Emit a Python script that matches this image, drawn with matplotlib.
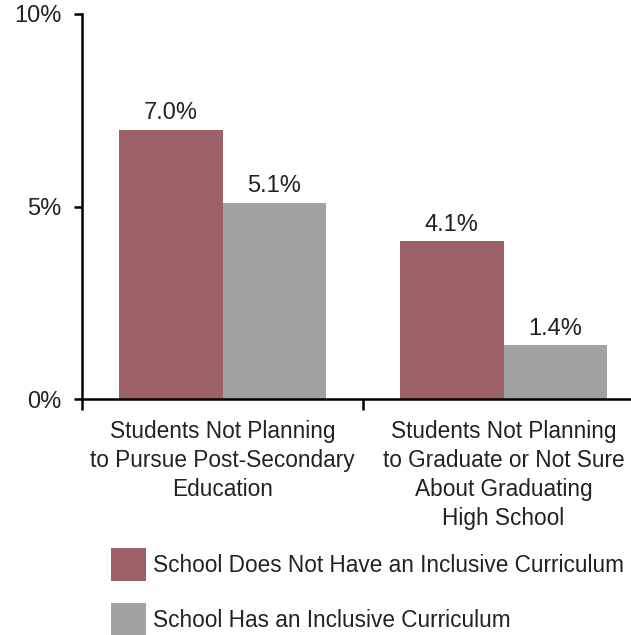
import matplotlib
matplotlib.use("Agg")
import matplotlib.pyplot as plt
from matplotlib.patches import Patch
import numpy as np

categories = ["Students Not Planning\nto Pursue Post-Secondary\nEducation",
              "Students Not Planning\nto Graduate or Not Sure\nAbout Graduating\nHigh School"]
series_names = ["School Does Not Have an Inclusive Curriculum",
                "School Has an Inclusive Curriculum"]
no_inclusive = [7.0, 4.1]
has_inclusive = [5.1, 1.4]
y_ticks = [0, 5, 10]
y_tick_labels = ["0%", "5%", "10%"]

RED = "#9c6067"
GRAY = "#a1a2a4"
TXT = "#222222"

plt.rcParams["font.family"] = ["Liberation Sans", "DejaVu Sans"]

fig = plt.figure(figsize=(6.31, 6.35), dpi=100)
ax = fig.add_axes([82 / 631, 236 / 635, 562 / 631, 385 / 635])

x = np.arange(len(categories))
w = 0.367
b1 = ax.bar(x - w / 2, no_inclusive, width=w, color=RED, label=series_names[0])
b2 = ax.bar(x + w / 2, has_inclusive, width=w, color=GRAY, label=series_names[1])

for bars, vals in ((b1, no_inclusive), (b2, has_inclusive)):
    for rect, v in zip(bars, vals):
        ax.annotate(f"{v:.1f}%", (rect.get_x() + rect.get_width() / 2, rect.get_height()),
                    xytext=(0, 4), textcoords="offset points", ha="center", va="bottom",
                    fontsize=17, color=TXT)

ax.set_xlim(-0.5, 1.5)
ax.set_ylim(0, 10)
ax.set_yticks(y_ticks)
ax.set_yticklabels(y_tick_labels, fontsize=17, color=TXT)
ax.set_xticks(x)
ax.set_xticklabels(categories, fontsize=16.3, color=TXT, linespacing=1.33)
ax.set_xticks([-0.5, 0.5, 1.5], minor=True)
ax.tick_params(axis="x", which="major", length=0, pad=15)
ax.tick_params(axis="x", which="minor", length=8, width=1.8, direction="out")
ax.tick_params(axis="y", length=6, width=1.8, direction="out", pad=9)

for s in ("top", "right"):
    ax.spines[s].set_visible(False)
for s in ("left", "bottom"):
    ax.spines[s].set_linewidth(1.8)
    ax.spines[s].set_color("black")

handles = [Patch(facecolor=RED, label=series_names[0]),
           Patch(facecolor=GRAY, label=series_names[1])]
fig.legend(handles=handles, loc="upper left",
           bbox_to_anchor=(111 / 631, 1 - 548 / 635), frameon=False,
           fontsize=16.3, handlelength=1.55, handleheight=1.85, handletextpad=0.3,
           labelspacing=1.0, borderpad=0, borderaxespad=0, labelcolor=TXT)

fig.savefig("out.png", dpi=100)
